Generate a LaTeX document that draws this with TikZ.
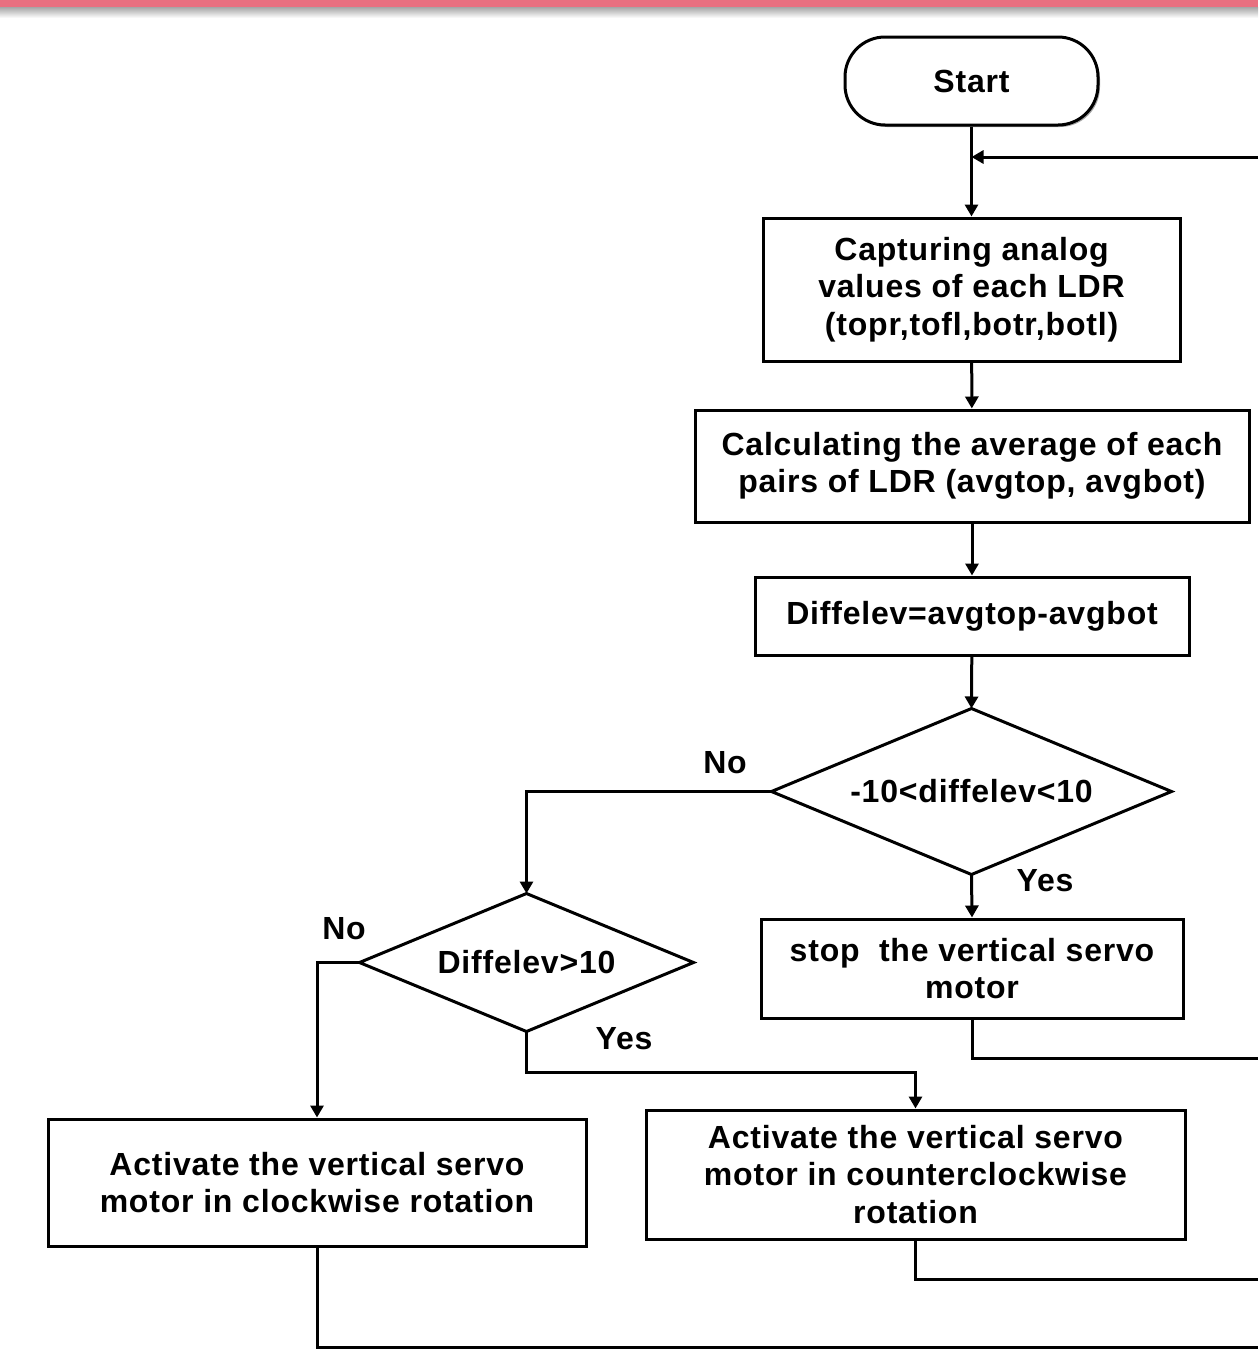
\documentclass[tikz,border=0pt]{standalone}
\usepackage{fontspec}
\setmainfont{Liberation Sans}[LetterSpace=2.5]
\usetikzlibrary{shapes.geometric,arrows.meta,shadows}
\definecolor{band}{RGB}{232,112,128}
\begin{document}
\begin{tikzpicture}[x=0.5pt,y=-0.5pt, line width=1.5pt,
  every node/.style={font=\bfseries\fontsize{16}{18.75}\selectfont, align=center},
  proc/.style={draw, rectangle, inner sep=0pt, fill=white,
    drop shadow={shadow xshift=1pt, shadow yshift=-1pt, fill=black!35, opacity=1}},
  term/.style={proc, rounded corners=20pt},
  decision/.style={rectangle, inner sep=0pt},
  arr/.style={-{Triangle[length=6pt,width=6.5pt]}},
  lbl/.style={inner sep=0pt}]
\useasboundingbox (0,0) rectangle (1258,1349);
\fill[band] (0,0) rectangle (1258,7);
\shade[top color=black!35, bottom color=white] (0,7) rectangle (1258,18);

\node[term, minimum width=126.5pt, minimum height=44pt] (start) at (971.5,81) {Start};
\node[proc, minimum width=208.5pt, minimum height=71.5pt] (b1) at (971.5,289.5)
  {Capturing analog\\values of each LDR\\(topr,tofl,botr,botl)};
\node[proc, minimum width=277pt, minimum height=56pt] (b2) at (972,466)
  {Calculating the average of each\\pairs of LDR (avgtop, avgbot)};
\node[proc, minimum width=217pt, minimum height=39pt] (b3) at (972,616)
  {Diffelev=avgtop-avgbot};
\node[decision, minimum width=198.5pt, minimum height=81.5pt] (d1) at (971.5,791.5)
  {-10<diffelev<10};
\draw (d1.north) -- (d1.east) -- (d1.south) -- (d1.west) -- cycle;
\node[proc, minimum width=211pt, minimum height=49.5pt] (b4) at (972,968.5)
  {stop\ \ the vertical servo\\motor};
\node[decision, minimum width=165.5pt, minimum height=67.5pt] (d2) at (526.5,962.5)
  {Diffelev>10};
\draw (d2.north) -- (d2.east) -- (d2.south) -- (d2.west) -- cycle;
\node[proc, minimum width=269pt, minimum height=63.5pt] (b5) at (317,1182.5)
  {Activate the vertical servo\\motor in clockwise rotation};
\node[proc, minimum width=269.5pt, minimum height=64.5pt] (b6) at (915.5,1174.5)
  {Activate the vertical servo\\motor in counterclockwise\\rotation};

\node[lbl] (no1) at (725,763) {No};
\node[lbl] (yes1) at (1045,881) {Yes};
\node[lbl] (no2) at (344,929) {No};
\node[lbl] (yes2) at (624,1039) {Yes};

\coordinate (r1) at (1258,157);
\coordinate (r2) at (1258,1058);
\coordinate (r3) at (1258,1279);
\coordinate (r4) at (1258,1347);
\coordinate (yj) at (526.5,1072);

\draw[arr] (start) -- (b1);
\draw[arr] (r1) -- (start.south |- r1);
\draw[arr] (b1) -- (b2);
\draw[arr] (b2) -- (b3);
\draw[arr] (b3) -- (d1.north);
\draw[arr] (d1.west) -| (d2.north);
\draw[arr] (d1.south) -- (b4.north);
\draw (b4.south) |- (r2);
\draw[arr] (d2.west) -| (b5.north);
\draw[arr] (d2.south) -- (yj) -| (b6.north);
\draw (b5.south) |- (r4);
\draw (b6.south) |- (r3);
\end{tikzpicture}
\end{document}
